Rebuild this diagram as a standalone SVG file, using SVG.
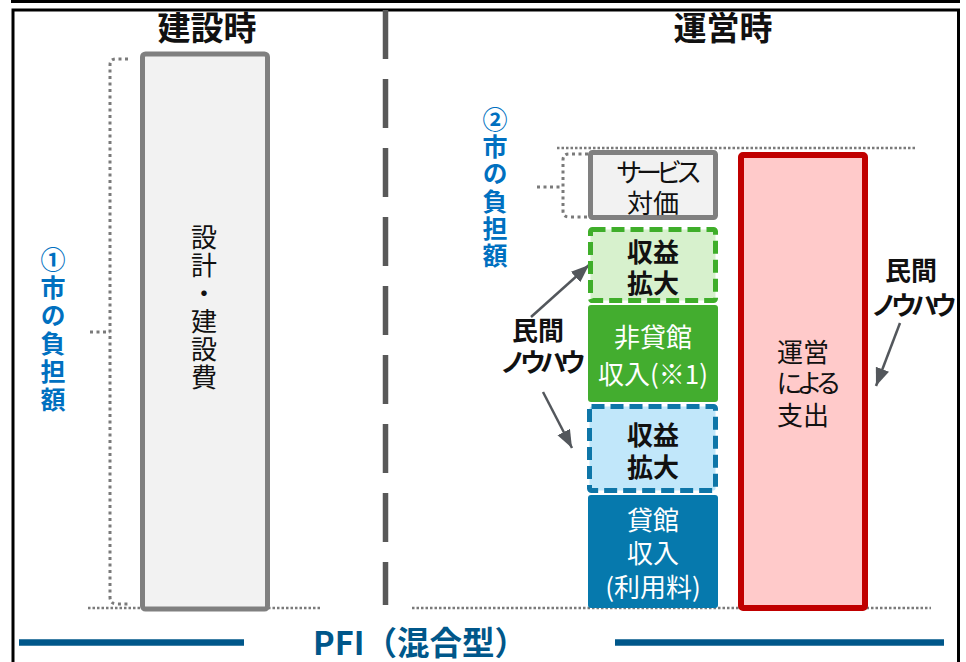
<svg xmlns="http://www.w3.org/2000/svg" width="966" height="662" viewBox="0 0 966 662">
<style>
text{font-family:"Noto Sans CJK JP","Noto Sans",sans-serif;}
.hd{font-size:33px;font-weight:bold;fill:#111;text-anchor:middle;}
.bx{font-size:26px;text-anchor:middle;}
.bk{fill:#111;}
.wh{fill:#fff;}
.bd{font-weight:bold;}
.vt{writing-mode:vertical-rl;}
.blue{font-size:25px;font-weight:bold;fill:#0070c0;}
.kana{letter-spacing:-6px;}
.dot{fill:none;stroke:#7a7a7a;stroke-width:3;stroke-dasharray:3 3.5;}
.base{fill:none;stroke:#7a7a7a;stroke-width:2.5;stroke-dasharray:2.5 2;}
.arr{stroke:#53575c;stroke-width:2.5;fill:none;marker-end:url(#ah);}
</style>
<defs>
<marker id="ah" markerUnits="userSpaceOnUse" markerWidth="20" markerHeight="16" refX="18" refY="7" orient="auto">
<path d="M0,0 L18,7 L0,14 z" fill="#53575c"/>
</marker>
</defs>
<rect width="966" height="662" fill="#fff"/>
<g id="frame">
<rect x="12.5" y="-20" width="946" height="21.5" fill="none" stroke="#000" stroke-width="3"/>
<rect x="13" y="10" width="945.5" height="700" fill="none" stroke="#000" stroke-width="3"/>
</g>
<g id="divider">
<line x1="385.5" y1="10" x2="385.5" y2="605" stroke="#595959" stroke-width="5.5" stroke-dasharray="49 20"/>
</g>
<g id="headings">
<text class="hd" x="207" y="40">建設時</text>
<text class="hd" x="723" y="40">運営時</text>
</g>
<g id="baselines">
<path class="base" d="M88,608 H322"/>
<path class="base" d="M412,608 H931"/>
<path class="base" d="M557,148 H917"/>
</g>
<g id="connectors">
<path class="dot" d="M128,59 H116 Q110,59 110,65 V597 Q110,604 117,604 H131"/>
<path class="dot" d="M90,332 H110"/>
<path class="dot" d="M588,154 H569 Q563,154 563,160 V211 Q563,217 569,217 H588"/>
<path class="dot" d="M537,187 H563"/>
<line class="arr" x1="531" y1="317" x2="589" y2="265"/>
<line class="arr" x1="543" y1="392" x2="572" y2="448"/>
<line class="arr" x1="900" y1="323" x2="876" y2="386"/>
</g>
<g id="construction-cost">
<rect x="142.5" y="54" width="125" height="555" rx="3" fill="#f2f2f2" stroke="#808080" stroke-width="5"/>
<text class="vt bk" x="204" y="224" font-size="26" letter-spacing="2">設計・建設費</text>
</g>
<g id="city-burden-1">
<text class="vt blue" x="53" y="246.5" letter-spacing="3.2">①市の負担額</text>
</g>
<g id="city-burden-2">
<text class="vt blue" x="495" y="106.5" letter-spacing="2.4">②市の負担額</text>
</g>
<g id="service-fee">
<rect x="590.5" y="152.5" width="125" height="65" rx="2" fill="#f2f2f2" stroke="#808080" stroke-width="5"/>
<text class="bx bk kana" x="656" y="181.6">サービス</text>
<text class="bx bk" x="653" y="212.6">対価</text>
</g>
<g id="revenue-up-green">
<rect x="590.5" y="229.5" width="125" height="71" rx="2" fill="#d7f1cd" stroke="#3fae2a" stroke-width="5" stroke-dasharray="13 6"/>
<text class="bx bk bd" x="653" y="261.6">収益</text>
<text class="bx bk bd" x="653" y="292.6">拡大</text>
</g>
<g id="non-rental-income">
<rect x="588" y="305" width="130" height="97" rx="3" fill="#43ad2f"/>
<text class="bx wh" x="653" y="346.6">非貸館</text>
<text class="bx wh" x="653" y="383.6">収入(※1)</text>
</g>
<g id="revenue-up-blue">
<rect x="589.5" y="406.5" width="126" height="84" rx="2" fill="#c1e7fa" stroke="#0e76a8" stroke-width="5" stroke-dasharray="13 6"/>
<text class="bx bk bd" x="653" y="444.6">収益</text>
<text class="bx bk bd" x="653" y="476.6">拡大</text>
</g>
<g id="rental-income">
<rect x="588" y="495" width="130" height="113" rx="3" fill="#0679ad"/>
<text class="bx wh" x="653" y="529.6">貸館</text>
<text class="bx wh" x="653" y="562.6">収入</text>
<text class="bx wh" x="653" y="596.6">(利用料)</text>
</g>
<g id="operating-expense">
<rect x="741" y="155" width="124" height="453" rx="2" fill="#ffcaca" stroke="#c00000" stroke-width="6"/>
<text class="bx bk" x="803" y="361.6">運営</text>
<text class="bx bk kana" x="806" y="392.6">による</text>
<text class="bx bk" x="803" y="424.6">支出</text>
</g>
<g id="know-how-left">
<text class="bx bk bd" x="538" y="339.6">民間</text>
<text class="bx bk bd kana" x="540" y="371.6">ノウハウ</text>
</g>
<g id="know-how-right">
<text class="bx bk bd" x="911" y="279.6">民間</text>
<text class="bx bk bd kana" x="911" y="314.6">ノウハウ</text>
</g>
<g id="title">
<line x1="19" y1="642.5" x2="244" y2="642.5" stroke="#00578a" stroke-width="6.5"/>
<line x1="615" y1="642.5" x2="944" y2="642.5" stroke="#00578a" stroke-width="6.5"/>
<text x="420" y="654.5" font-size="32.5" font-weight="bold" fill="#00578a" text-anchor="middle">PFI（混合型）</text>
</g>
</svg>
